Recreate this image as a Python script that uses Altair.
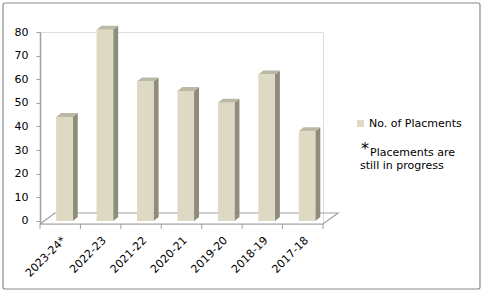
import altair as alt
import pandas as pd

# ---------------- data ----------------
categories = ["2023-24*", "2022-23", "2021-22", "2020-21", "2019-20", "2018-19", "2017-18"]
placements = [44, 81, 59, 55, 50, 62, 38]
y_ticks = [0, 10, 20, 30, 40, 50, 60, 70, 80]
series_name = "No. of Placments"
note_star = "*"
note_lines = ["Placements are", "still in progress"]

# ---------------- geometry (styling constants) ----------------
W, H = 283, 192
YMIN, YMAX = -1.3, 80
N = len(categories)
ux = N / W                 # data units per px (x)
uy = (YMAX - YMIN) / H     # data units per px (y)
FACE0, FACE1 = 0.40, 0.81  # front face position inside each band
DX, DY = 5 * ux, 4 * uy    # bar depth
FDX, FDY = 15 * ux, 11 * uy  # floor depth

FONT = "Verdana, DejaVu Sans"
FRONT, SIDE, TOP = "#ddd9c3", "#8e8c7a", "#bbb8a4"
LINE = "#a0a0a0"

xs = alt.Scale(domain=[0, N], nice=False, zero=False)
ys = alt.Scale(domain=[YMIN, YMAX], nice=False, zero=False)
y_axis = alt.Axis(
    values=y_ticks, tickCount=9, grid=False, title=None, domainColor=LINE, domainWidth=1.5,
    tickColor=LINE, tickSize=4, labelFont=FONT, labelFontSize=11,
    labelColor="#000", labelPadding=8, labelOverlap=False, labelFlush=False)

front = pd.DataFrame({
    "cat": categories,
    "x0": [i + FACE0 for i in range(N)],
    "x1": [i + FACE1 for i in range(N)],
    "v": placements,
    "base": [0] * N,
    "series": [series_name] * N,
})

side_rows, top_rows = [], []
for i, (c, v) in enumerate(zip(categories, placements)):
    side_rows.append({"cat": c, "x": i + FACE1, "y": v, "y2": 0})
    side_rows.append({"cat": c, "x": i + FACE1 + DX, "y": v + DY, "y2": DY})
    top_rows.append({"cat": c, "y": v, "x": i + FACE0, "x2": i + FACE1})
    top_rows.append({"cat": c, "y": v + DY, "x": i + FACE0 + DX, "x2": i + FACE1 + DX})
side = pd.DataFrame(side_rows)
top = pd.DataFrame(top_rows)

floor = pd.DataFrame({
    "x": [0, N, N + FDX, FDX, 0],
    "y": [YMIN, YMIN, YMIN + FDY, YMIN + FDY, YMIN],
    "o": [0, 1, 2, 3, 4],
})

bounds = pd.DataFrame({"b": list(range(N + 1))})
labels = pd.DataFrame({"cat": categories,
                       "xc": [i + 0.5 + 4 * ux for i in range(N)]})

floor_layer = alt.Chart(floor).mark_line(color=LINE, strokeWidth=1.2).encode(
    x=alt.X("x:Q", scale=xs, axis=None),
    y=alt.Y("y:Q", scale=ys, axis=y_axis),
    order="o:Q",
)

side_layer = alt.Chart(side).mark_area(color=SIDE, orient="vertical").encode(
    x=alt.X("x:Q", scale=xs, axis=None),
    y=alt.Y("y:Q", scale=ys, axis=y_axis),
    y2="y2:Q",
    detail="cat:N",
)

top_layer = alt.Chart(top).mark_area(color=TOP, orient="horizontal").encode(
    y=alt.Y("y:Q", scale=ys, axis=y_axis),
    x=alt.X("x:Q", scale=xs, axis=None),
    x2="x2:Q",
    detail="cat:N",
)

front_layer = alt.Chart(front).mark_bar(strokeWidth=0).encode(
    x=alt.X("x0:Q", scale=xs, axis=None),
    x2="x1:Q",
    y=alt.Y("v:Q", scale=ys, axis=y_axis),
    y2="base:Q",
    color=alt.Color("series:N", scale=alt.Scale(range=[FRONT]), legend=alt.Legend(
        title=None, orient="none", legendX=315, legendY=86, symbolType="square",
        symbolSize=49, symbolStrokeWidth=0, labelFont=FONT, labelFontSize=11,
        labelColor="#000", labelOffset=3, padding=0)),
)

tick_layer = alt.Chart(bounds).mark_rule(color=LINE).encode(
    x=alt.X("b:Q", scale=xs, axis=None),
    y=alt.value(H),
    y2=alt.value(H + 5),
)

label_layer = alt.Chart(labels).mark_text(
    angle=315, align="right", baseline="middle", font=FONT, fontSize=11, color="#000"
).encode(
    x=alt.X("xc:Q", scale=xs, axis=None),
    y=alt.value(H + 15),
    text="cat:N",
)

star_layer = alt.Chart(alt.Data(values=[{"t": note_star}])).mark_text(
    align="left", baseline="middle", font=FONT, fontSize=16, color="#000"
).encode(x=alt.value(321), y=alt.value(117), text="t:N")

note_layer = alt.Chart(alt.Data(values=[
    {"t": note_lines[0], "px": 330, "py": 121},
    {"t": note_lines[1], "px": 320, "py": 134},
])).mark_text(align="left", baseline="middle", font=FONT, fontSize=11, color="#000").encode(
    x=alt.X("px:Q", scale=None), y=alt.Y("py:Q", scale=None), text="t:N")

border_layer = alt.Chart(alt.Data(values=[{}])).mark_rect(
    fill="transparent", stroke="#8a8a8a", strokeWidth=1.2, cornerRadius=2
).encode(x=alt.value(-37), x2=alt.value(440), y=alt.value(-29), y2=alt.value(257))

chart = alt.layer(
    border_layer, floor_layer, tick_layer, side_layer, top_layer, front_layer,
    label_layer, star_layer, note_layer,
).properties(
    width=W, height=H,
    autosize=alt.AutoSizeParams(type="none"),
    padding={"left": 40, "top": 32, "right": 484 - 40 - W, "bottom": 293 - 32 - H},
).configure_view(stroke=None).configure(background="white")

chart.save("out.html", embed_options={"renderer": "svg", "actions": False})
